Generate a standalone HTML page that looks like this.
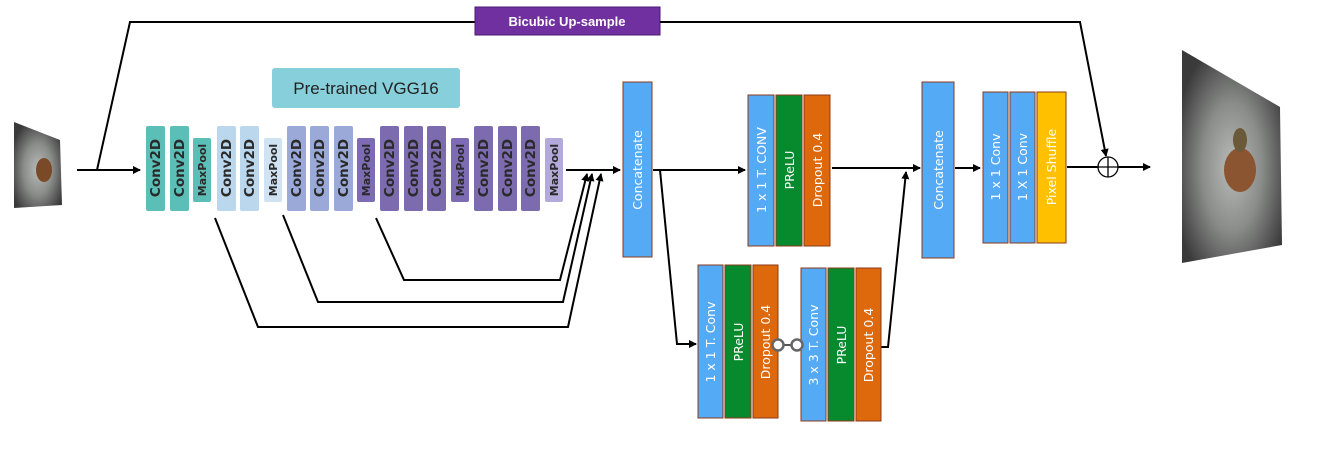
<!DOCTYPE html>
<html><head><meta charset="utf-8"><style>
html,body{margin:0;padding:0;background:#fff;}
svg{display:block;font-family:"DejaVu Sans","Liberation Sans",sans-serif;}
.v{font-size:12.5px;fill:#fff;}
.k{font-size:13.5px;font-weight:bold;fill:#2a2a2a;}
.m{font-size:11px;font-weight:bold;fill:#2a2a2a;}
</style></head><body>
<svg width="1332" height="461" viewBox="0 0 1332 461" xmlns="http://www.w3.org/2000/svg">
<defs>
<marker id="a" markerWidth="8" markerHeight="8" refX="7" refY="4" orient="auto" markerUnits="userSpaceOnUse"><path d="M0,0 L8,4 L0,8 z" fill="#000"/></marker>
<radialGradient id="w" cx="0.5" cy="0.55" r="0.6"><stop offset="0" stop-color="#b8bcb8"/><stop offset="0.5" stop-color="#8a8c8a"/><stop offset="1" stop-color="#3a3a3a"/></radialGradient>
</defs>
<polygon points="14,122 60,140 62,205 14,208" fill="url(#w)"/>
<ellipse cx="44" cy="170" rx="8" ry="12" fill="#7a4a28"/>
<polygon points="1182,50 1280,107 1282,245 1182,263" fill="url(#w)"/>
<ellipse cx="1240" cy="170" rx="16" ry="22" fill="#8a5530"/>
<ellipse cx="1240" cy="140" rx="7" ry="12" fill="#6a5a3a"/>
<polyline points="97,170 130,22 475,22" fill="none" stroke="#000" stroke-width="2"/>
<rect x="475" y="7" width="185" height="28" fill="#7030a0" stroke="#4a1a70"/>
<text x="567" y="26" text-anchor="middle" font-size="13" font-weight="bold" fill="#fff" font-family="Liberation Sans, sans-serif">Bicubic Up-sample</text>
<polyline points="660,22 1080,22 1106,156" fill="none" stroke="#000" stroke-width="2" marker-end="url(#a)"/>
<line x1="77" y1="170" x2="140" y2="170" stroke="#000" stroke-width="2" marker-end="url(#a)"/>
<rect x="272" y="68" width="188" height="40" rx="3" fill="#87cfda"/>
<text x="366" y="94" text-anchor="middle" font-size="17" fill="#222" font-family="Liberation Sans, sans-serif">Pre-trained VGG16</text>
<g>
<rect x="146" y="126" width="19" height="85" rx="2" fill="#5bbfb8"/><text class="k" transform="translate(160,168) rotate(-90)" text-anchor="middle">Conv2D</text>
<rect x="170" y="126" width="19" height="85" rx="2" fill="#5bbfb8"/><text class="k" transform="translate(184,168) rotate(-90)" text-anchor="middle">Conv2D</text>
<rect x="193" y="138" width="18" height="64" rx="2" fill="#5bbfb8"/><text class="m" transform="translate(206,170) rotate(-90)" text-anchor="middle">MaxPool</text>
<rect x="217" y="126" width="19" height="85" rx="2" fill="#bad7ee"/><text class="k" transform="translate(231,168) rotate(-90)" text-anchor="middle">Conv2D</text>
<rect x="240" y="126" width="19" height="85" rx="2" fill="#bad7ee"/><text class="k" transform="translate(254,168) rotate(-90)" text-anchor="middle">Conv2D</text>
<rect x="264" y="138" width="18" height="64" rx="2" fill="#cfe3f3"/><text class="m" transform="translate(277,170) rotate(-90)" text-anchor="middle">MaxPool</text>
<rect x="287" y="126" width="19" height="85" rx="2" fill="#9aa9d8"/><text class="k" transform="translate(301,168) rotate(-90)" text-anchor="middle">Conv2D</text>
<rect x="310" y="126" width="19" height="85" rx="2" fill="#9aa9d8"/><text class="k" transform="translate(324,168) rotate(-90)" text-anchor="middle">Conv2D</text>
<rect x="334" y="126" width="19" height="85" rx="2" fill="#9aa9d8"/><text class="k" transform="translate(348,168) rotate(-90)" text-anchor="middle">Conv2D</text>
<rect x="357" y="138" width="18" height="64" rx="2" fill="#7d6bb4"/><text class="m" transform="translate(370,170) rotate(-90)" text-anchor="middle">MaxPool</text>
<rect x="380" y="126" width="19" height="85" rx="2" fill="#7d6bb0"/><text class="k" transform="translate(394,168) rotate(-90)" text-anchor="middle">Conv2D</text>
<rect x="404" y="126" width="19" height="85" rx="2" fill="#7d6bb0"/><text class="k" transform="translate(418,168) rotate(-90)" text-anchor="middle">Conv2D</text>
<rect x="427" y="126" width="19" height="85" rx="2" fill="#7d6bb0"/><text class="k" transform="translate(441,168) rotate(-90)" text-anchor="middle">Conv2D</text>
<rect x="451" y="138" width="18" height="64" rx="2" fill="#7d6bb4"/><text class="m" transform="translate(464,170) rotate(-90)" text-anchor="middle">MaxPool</text>
<rect x="474" y="126" width="19" height="85" rx="2" fill="#7d6bb0"/><text class="k" transform="translate(488,168) rotate(-90)" text-anchor="middle">Conv2D</text>
<rect x="498" y="126" width="19" height="85" rx="2" fill="#7d6bb0"/><text class="k" transform="translate(512,168) rotate(-90)" text-anchor="middle">Conv2D</text>
<rect x="521" y="126" width="19" height="85" rx="2" fill="#7d6bb0"/><text class="k" transform="translate(535,168) rotate(-90)" text-anchor="middle">Conv2D</text>
<rect x="545" y="138" width="18" height="64" rx="2" fill="#b3a9da"/><text class="m" transform="translate(558,170) rotate(-90)" text-anchor="middle">MaxPool</text>
</g>
<g fill="none" stroke="#000" stroke-width="2">
<line x1="566" y1="170" x2="620" y2="170" marker-end="url(#a)"/>
<polyline points="376,218 404,280 560,280 587,174" marker-end="url(#a)"/>
<polyline points="283,215 318,302 563,302 592,174" marker-end="url(#a)"/>
<polyline points="215,218 258,327 568,327 601,174" marker-end="url(#a)"/>
<line x1="653" y1="170" x2="745" y2="170" marker-end="url(#a)"/>
<polyline points="660,170 677,344 696,344" marker-end="url(#a)"/>
<polyline points="880,347 888,347 906,172" marker-end="url(#a)"/>
<line x1="832" y1="168" x2="920" y2="168" marker-end="url(#a)"/>
<line x1="955" y1="168" x2="980" y2="168" marker-end="url(#a)"/>
<line x1="1067" y1="167" x2="1150" y2="167" marker-end="url(#a)"/>
</g>
<circle cx="1108" cy="167" r="10" fill="#fff" stroke="#000" stroke-width="1.3"/>
<line x1="1098" y1="167" x2="1118" y2="167" stroke="#000" stroke-width="1.3"/>
<line x1="1108" y1="157" x2="1108" y2="177" stroke="#000" stroke-width="1.3"/>
<g stroke="#8b3a1a" stroke-width="1">
<rect x="623" y="82" width="29" height="175" fill="#55aaf5"/>
<rect x="922" y="82" width="32" height="176" fill="#55aaf5"/>
<rect x="748" y="95" width="26" height="151" fill="#55aaf5"/>
<rect x="776" y="95" width="26" height="151" fill="#078a2e"/>
<rect x="804" y="95" width="26" height="151" fill="#de690c"/>
<rect x="698" y="265" width="25" height="153" fill="#55aaf5"/>
<rect x="725" y="265" width="26" height="153" fill="#078a2e"/>
<rect x="753" y="265" width="25" height="153" fill="#de690c"/>
<rect x="801" y="268" width="25" height="153" fill="#55aaf5"/>
<rect x="828" y="268" width="26" height="153" fill="#078a2e"/>
<rect x="856" y="268" width="25" height="153" fill="#de690c"/>
<rect x="983" y="92" width="25" height="151" fill="#55aaf5"/>
<rect x="1010" y="92" width="25" height="151" fill="#55aaf5"/>
<rect x="1037" y="92" width="29" height="151" fill="#ffc000"/>
</g>
<line x1="777" y1="345" x2="797" y2="345" stroke="#555" stroke-width="2"/>
<circle cx="778" cy="345" r="5.5" fill="#fff" stroke="#666" stroke-width="2.5"/>
<circle cx="797" cy="345" r="5.5" fill="#fff" stroke="#666" stroke-width="2.5"/>
<text class="v" transform="translate(642,170) rotate(-90)" text-anchor="middle">Concatenate</text>
<text class="v" transform="translate(943,170) rotate(-90)" text-anchor="middle">Concatenate</text>
<text class="v" transform="translate(766,170) rotate(-90)" text-anchor="middle">1 x 1 T. CONV</text>
<text class="v" transform="translate(794,170) rotate(-90)" text-anchor="middle">PReLU</text>
<text class="v" transform="translate(822,170) rotate(-90)" text-anchor="middle">Dropout 0.4</text>
<text class="v" transform="translate(715,342) rotate(-90)" text-anchor="middle">1 x 1 T. Conv</text>
<text class="v" transform="translate(743,342) rotate(-90)" text-anchor="middle">PReLU</text>
<text class="v" transform="translate(770,342) rotate(-90)" text-anchor="middle">Dropout 0.4</text>
<text class="v" transform="translate(818,345) rotate(-90)" text-anchor="middle">3 x 3 T. Conv</text>
<text class="v" transform="translate(846,345) rotate(-90)" text-anchor="middle">PReLU</text>
<text class="v" transform="translate(873,345) rotate(-90)" text-anchor="middle">Dropout 0.4</text>
<text class="v" transform="translate(1000,167) rotate(-90)" text-anchor="middle">1 x 1 Conv</text>
<text class="v" transform="translate(1027,167) rotate(-90)" text-anchor="middle">1 X 1 Conv</text>
<text class="v" transform="translate(1056,167) rotate(-90)" text-anchor="middle">Pixel Shuffle</text>
</svg>
</body></html>
